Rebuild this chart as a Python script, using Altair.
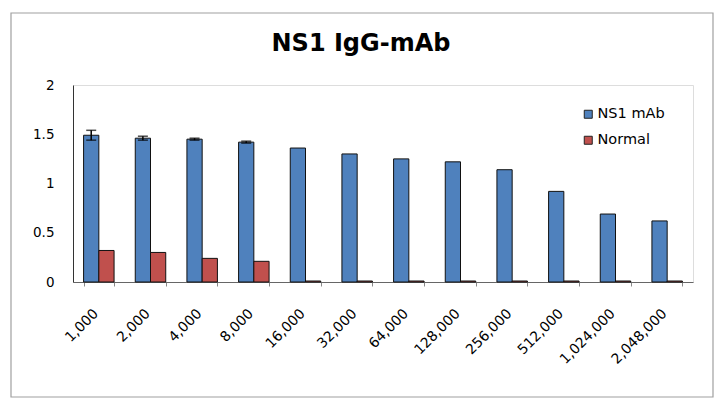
import altair as alt
import pandas as pd

dilutions = ["1,000", "2,000", "4,000", "8,000", "16,000", "32,000", "64,000",
             "128,000", "256,000", "512,000", "1,024,000", "2,048,000"]
ns1_mab = [1.49, 1.46, 1.45, 1.42, 1.36, 1.30, 1.25, 1.22, 1.14, 0.92, 0.69, 0.62]
ns1_err = [0.05, 0.02, 0.01, 0.01, 0, 0, 0, 0, 0, 0, 0, 0]
normal = [0.32, 0.30, 0.24, 0.21, 0.01, 0.01, 0.01, 0.01, 0.01, 0.01, 0.01, 0.01]
series = ["NS1 mAb", "Normal"]
colors = ["#4F81BD", "#C0504D"]
title_text = "NS1 IgG-mAb"

rows = []
for d, a, e, n in zip(dilutions, ns1_mab, ns1_err, normal):
    rows.append({"dil": d, "series": series[0], "value": a, "lo": a - e, "hi": a + e, "err": e})
    rows.append({"dil": d, "series": series[1], "value": n, "lo": n, "hi": n, "err": 0})
df = pd.DataFrame(rows)

FONT = "DejaVu Sans"
W, H = 620, 197

xenc = alt.X("dil:N", sort=dilutions, title=None,
             scale=alt.Scale(paddingInner=0.41, paddingOuter=0.205),
             axis=alt.Axis(labelAngle=-45, labelAlign="right", labelBaseline="middle",
                           labelFontSize=14, labelFont=FONT,
                           labelColor="#000", domainColor="#666", tickColor="#888",
                           tickBand="extent", tickSize=4, labelPadding=25, labelOffset=-3))
xoff = alt.XOffset("series:N", scale=alt.Scale(domain=series))

bars = alt.Chart(df).mark_bar(stroke="#111", strokeWidth=1).encode(
    x=xenc,
    xOffset=xoff,
    y=alt.Y("value:Q", title=None,
            scale=alt.Scale(domain=[0, 2]),
            axis=alt.Axis(values=[0, 0.5, 1, 1.5, 2], format="~g", grid=False, ticks=False,
                          labelFontSize=13.5, labelFont=FONT, labelColor="#000",
                          domainColor="#333", labelPadding=19)),
    color=alt.Color("series:N", scale=alt.Scale(domain=series, range=colors),
                    legend=alt.Legend(title=None, orient="none", legendX=508, legendY=22,
                                      symbolType="square", symbolSize=64,
                                      symbolStrokeColor="#222", symbolStrokeWidth=1,
                                      labelFontSize=14.5, labelFont=FONT, labelColor="#000",
                                      rowPadding=11, labelOffset=2)),
)

errdf = df[df["err"] > 0]
err_rule = alt.Chart(errdf).mark_rule(color="#000", strokeWidth=1.5).encode(
    x=alt.X("dil:N", sort=dilutions), xOffset=xoff, y="lo:Q", y2="hi:Q")
cap_hi = alt.Chart(errdf).mark_tick(color="#000", size=10, thickness=1.5).encode(
    x=alt.X("dil:N", sort=dilutions), xOffset=xoff, y="hi:Q")
cap_lo = alt.Chart(errdf).mark_tick(color="#000", size=10, thickness=1.5).encode(
    x=alt.X("dil:N", sort=dilutions), xOffset=xoff, y="lo:Q")

one = pd.DataFrame({"t": [title_text]})
frame = alt.Chart(one).mark_rect(
    filled=False, stroke="#a0a0a0", strokeWidth=1.2, clip=False).encode(
    x=alt.value(-62), x2=alt.value(640), y=alt.value(-72), y2=alt.value(312))
title = alt.Chart(one).mark_text(font=FONT, fontSize=24, fontWeight="bold", color="#000",
                                 align="center", baseline="alphabetic").encode(
    text="t:N", x=alt.value(288), y=alt.value(-34.5))

chart = alt.layer(frame, title, bars, err_rule, cap_hi, cap_lo).properties(
    width=W, height=H,
    autosize=alt.AutoSizeParams(type="none"),
    padding={"left": 65, "top": 77, "right": 26, "bottom": 118},
).configure_view(stroke="#222", strokeWidth=1).configure(background="white")

chart.save("out.html", embed_options={"renderer": "svg", "actions": False})
